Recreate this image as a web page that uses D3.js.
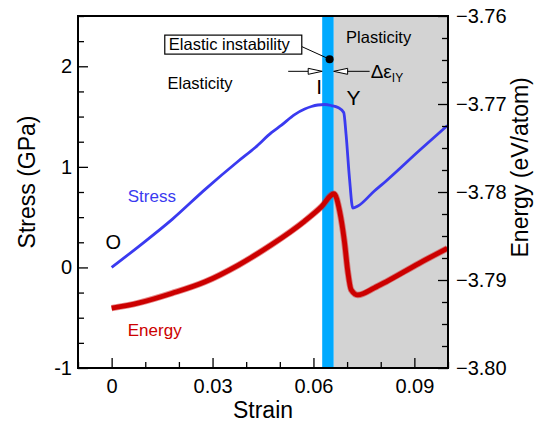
<!DOCTYPE html>
<html>
<head>
<meta charset="utf-8">
<script src="https://cdn.jsdelivr.net/npm/d3@7/dist/d3.min.js"></script>
<style>
  body { margin: 0; background: #fff; }
  text { font-family: "Liberation Sans", Arial, Helvetica, sans-serif; }
</style>
</head>
<body>
<svg id="chart" width="540" height="422"></svg>
<script>
// stress-strain + energy

var stressStrain = [0, 0.0081, 0.018, 0.0278, 0.0377, 0.0426, 0.0475, 0.0505, 0.0544, 0.0574, 0.0594, 0.0613, 0.0633, 0.0653, 0.0673, 0.069, 0.0697, 0.0707, 0.0717, 0.0732, 0.0781, 0.0816, 0.0914, 0.0998];
var stressValues = [0, 0.21, 0.478, 0.776, 1.058, 1.19, 1.34, 1.415, 1.52, 1.575, 1.60, 1.615, 1.62, 1.61, 1.59, 1.54, 1.32, 0.89, 0.59, 0.61, 0.76, 0.86, 1.16, 1.41];

var energyStrain = [0, 0.0081, 0.018, 0.0278, 0.0377, 0.0475, 0.0574, 0.0623, 0.0661, 0.0678, 0.0692, 0.0702, 0.0712, 0.0732, 0.0781, 0.0816, 0.0914, 0.0998];
var energyValues = [-3.7932, -3.7926, -3.7915, -3.7902, -3.7883, -3.7860, -3.7833, -3.7817, -3.7802, -3.7822, -3.7856, -3.7890, -3.7911, -3.7917, -3.7909, -3.7902, -3.7881, -3.7864];

var xTicks = [0, 0.03, 0.06, 0.09];
var stressTicks = [-1, 0, 1, 2];
var energyTicks = [-3.80, -3.79, -3.78, -3.77, -3.76];

var bandStart = 0.0626;   // instability band
var bandEnd = 0.066;
var instabilityPoint = {strain: 0.0648, stress: 2.07};

var margin = {top: 16, right: 92, bottom: 54, left: 78};
var width = 540 - margin.left - margin.right;
var height = 422 - margin.top - margin.bottom;

var svg = d3.select("#chart");
var g = svg.append("g").attr("transform", "translate(" + margin.left + "," + margin.top + ")");

var x = d3.scaleLinear().domain([-0.01, 0.1]).range([0, width]);
var y = d3.scaleLinear().domain([-1, 2.5]).range([height, 0]);
var y2 = d3.scaleLinear().domain([-3.80, -3.76]).range([height, 0]);

// shaded regions
g.append("rect")
    .attr("x", x(bandEnd)).attr("y", 0)
    .attr("width", x(0.1) - x(bandEnd)).attr("height", height)
    .attr("fill", "#d3d3d3");
g.append("rect")
    .attr("x", x(bandStart)).attr("y", 0)
    .attr("width", x(bandEnd) - x(bandStart)).attr("height", height)
    .attr("fill", "#00aaff");

// curves
var stressLine = d3.line()
    .curve(d3.curveMonotoneX)
    .x(function(d, i) { return x(stressStrain[i]); })
    .y(function(d) { return y(d); });

var energyLine = d3.line()
    .curve(d3.curveMonotoneX)
    .x(function(d, i) { return x(energyStrain[i]); })
    .y(function(d) { return y2(d); });

g.append("path")
    .datum(energyValues)
    .attr("d", energyLine)
    .attr("fill", "none")
    .attr("stroke", "#d42a2a")
    .attr("stroke-opacity", 0.55)
    .attr("stroke-width", 6.5);
g.append("path")
    .datum(energyValues)
    .attr("d", energyLine)
    .attr("fill", "none")
    .attr("stroke", "#cc0000")
    .attr("stroke-width", 4.8);

g.append("path")
    .datum(stressValues)
    .attr("d", stressLine)
    .attr("fill", "none")
    .attr("stroke", "#3a3af0")
    .attr("stroke-width", 2.8);

// axes, ticks pointing inward
var tickFont = 20;
function styleAxis(sel) {
  sel.select(".domain").remove();
  sel.selectAll("line").attr("stroke", "#000").attr("stroke-width", 1.3);
  sel.selectAll("text").style("font-size", tickFont + "px").attr("fill", "#000");
}
function isMajor(list) {
  return function(d) { return list.some(function(t) { return Math.abs(t - d) < 1e-6; }); };
}

var xAxis = g.append("g")
    .attr("transform", "translate(0," + height + ")")
    .call(d3.axisBottom(x).tickValues(d3.range(-0.01, 0.1001, 0.01)).tickSize(-6).tickPadding(6)
      .tickFormat(function(d) { return isMajor(xTicks)(d) ? d3.format("~g")(+d.toFixed(3)) : ""; }))
    .call(styleAxis);
xAxis.selectAll(".tick").filter(isMajor(xTicks)).select("line").attr("y2", -10);
xAxis.selectAll("text").attr("dy", "0.95em");

var yAxis = g.append("g")
    .call(d3.axisLeft(y).tickValues(d3.range(-1, 2.5001, 0.25)).tickSize(-6).tickPadding(6)
      .tickFormat(function(d) { return isMajor(stressTicks)(d) ? d : ""; }))
    .call(styleAxis);
yAxis.selectAll(".tick").filter(isMajor(stressTicks)).select("line").attr("x2", 10);

var y2Axis = g.append("g")
    .attr("transform", "translate(" + width + ",0)")
    .call(d3.axisRight(y2).tickValues(d3.range(0, 17).map(function(i) { return -3.80 + i * 0.0025; })).tickSize(-6).tickPadding(8)
      .tickFormat(function(d) { return isMajor(energyTicks)(d) ? d3.format(".2f")(d) : ""; }))
    .call(styleAxis);
y2Axis.selectAll(".tick").filter(isMajor(energyTicks)).select("line").attr("x2", -10);

// frame
g.append("rect")
    .attr("width", width).attr("height", height)
    .attr("fill", "none").attr("stroke", "#000").attr("stroke-width", 2);

// axis titles
svg.append("text")
    .attr("transform", "translate(35," + (margin.top + y(0.85)) + ") rotate(-90)")
    .attr("text-anchor", "middle")
    .style("font-size", "23px")
    .text("Stress (GPa)");
svg.append("text")
    .attr("transform", "translate(528," + (margin.top + y2(-3.7772)) + ") rotate(-90)")
    .attr("text-anchor", "middle")
    .style("font-size", "23px")
    .text("Energy (eV/atom)");
svg.append("text")
    .attr("x", margin.left + x(0.045)).attr("y", 418)
    .attr("text-anchor", "middle")
    .style("font-size", "23px")
    .text("Strain");

// annotations
g.append("text").attr("x", x(0.0166)).attr("y", y(1.77)).style("font-size", "16.5px").text("Elasticity");
g.append("text").attr("x", x(0.0697)).attr("y", y(2.23)).style("font-size", "16.5px").text("Plasticity");
g.append("text").attr("x", x(0.0048)).attr("y", y(0.65)).style("font-size", "17px").attr("fill", "#3a3af0").text("Stress");
g.append("text").attr("x", x(0.0048)).attr("y", y(-0.68)).style("font-size", "17px").attr("fill", "#cc0000").text("Energy");
g.append("text").attr("x", x(-0.0018)).attr("y", y(0.18)).style("font-size", "20px").text("O");
g.append("text").attr("x", x(0.0608)).attr("y", y(1.72)).style("font-size", "21px").text("I");
g.append("text").attr("x", x(0.0698)).attr("y", y(1.62)).style("font-size", "21px").text("Y");

// elastic instability callout
var boxX = x(0.0158), boxY = y(2.31), boxW = 137, boxH = 19;
var dotX = x(instabilityPoint.strain), dotY = y(instabilityPoint.stress);
g.append("line")
    .attr("x1", boxX + boxW).attr("y1", boxY + boxH / 2 + 2)
    .attr("x2", dotX).attr("y2", dotY)
    .attr("stroke", "#000").attr("stroke-width", 1);
g.append("rect")
    .attr("x", boxX).attr("y", boxY).attr("width", boxW).attr("height", boxH)
    .attr("fill", "#fff").attr("stroke", "#000").attr("stroke-width", 1.2);
g.append("text")
    .attr("x", boxX + 4).attr("y", boxY + 15)
    .style("font-size", "16.5px")
    .text("Elastic instability");
g.append("circle").attr("cx", dotX).attr("cy", dotY).attr("r", 4).attr("fill", "#000");

// delta-epsilon arrows pointing at band edges
var arrowY = y(1.95);
var leftTip = x(bandStart), rightTip = x(bandEnd);
g.append("line").attr("x1", leftTip - 34).attr("x2", leftTip - 14).attr("y1", arrowY).attr("y2", arrowY)
    .attr("stroke", "#000").attr("stroke-width", 1);
g.append("path")
    .attr("d", "M" + (leftTip - 14) + "," + (arrowY - 3) + "L" + leftTip + "," + arrowY + "L" + (leftTip - 14) + "," + (arrowY + 3) + "Z")
    .attr("fill", "#fff").attr("stroke", "#000").attr("stroke-width", 1);
g.append("line").attr("x1", rightTip + 14).attr("x2", rightTip + 36).attr("y1", arrowY).attr("y2", arrowY)
    .attr("stroke", "#000").attr("stroke-width", 1);
g.append("path")
    .attr("d", "M" + (rightTip + 14) + "," + (arrowY - 3) + "L" + rightTip + "," + arrowY + "L" + (rightTip + 14) + "," + (arrowY + 3) + "Z")
    .attr("fill", "#fff").attr("stroke", "#000").attr("stroke-width", 1);

var delta = g.append("text").attr("x", rightTip + 37).attr("y", arrowY + 7).style("font-size", "19px");
delta.append("tspan").text("\u0394\u03b5");
delta.append("tspan").attr("dy", 4).style("font-size", "12px").text("IY");
</script>
</body>
</html>
